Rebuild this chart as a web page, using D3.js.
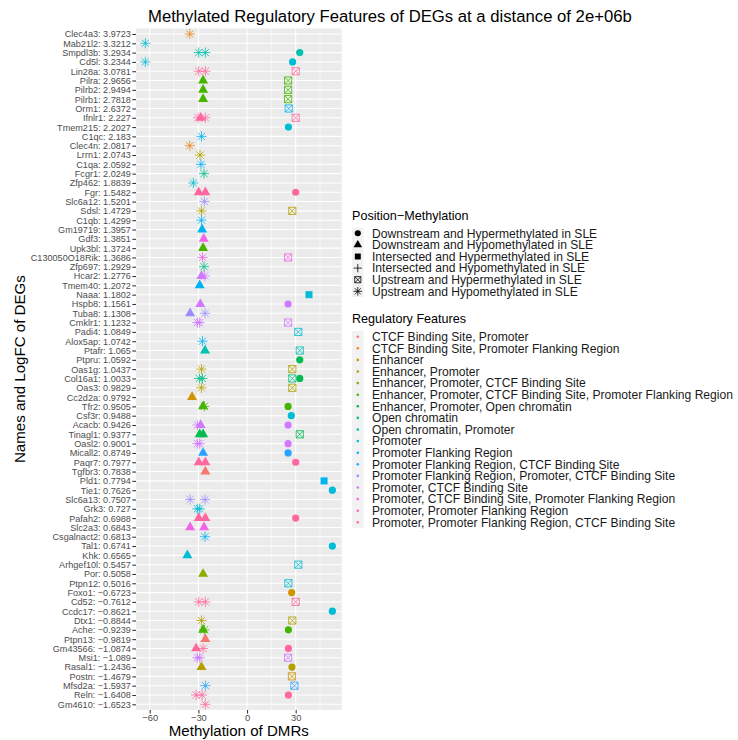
<!DOCTYPE html>
<html>
<head>
<meta charset="utf-8">
<script src="https://cdn.jsdelivr.net/npm/d3@7"></script>
<style>
  body { margin: 0; background: #ffffff; }
  text { font-family: "Liberation Sans", Arial, Helvetica, sans-serif; }
</style>
</head>
<body>
<svg id="chart" width="738" height="740"></svg>
<script>
// ---- data ----
const genes = ["Clec4a3","Mab21l2","Smpdl3b","Cd5l","Lin28a","Pilra","Pilrb2","Pilrb1","Orm1","Ifnlr1",
  "Tmem215","C1qc","Clec4n","Lrrn1","C1qa","Fcgr1","Zfp462","Fgr","Slc6a12","Sdsl",
  "C1qb","Gm19719","Gdf3","Upk3bl","C130050O18Rik","Zfp697","Hcar2","Tmem40","Naaa","Hspb8",
  "Tuba8","Cmklr1","Padi4","Alox5ap","Ptafr","Ptpru","Oas1g","Col16a1","Oas3","Cc2d2a",
  "Tfr2","Csf3r","Acacb","Tinagl1","Oasl2","Micall2","Paqr7","Tgfbr3","Pld1","Tie1",
  "Slc6a13","Grk3","Pafah2","Slc2a3","Csgalnact2","Tal1","Khk","Arhgef10l","Por","Ptpn12",
  "Foxo1","Cd52","Ccdc17","Dtx1","Ache","Ptpn13","Gm43566","Msi1","Rasal1","Postn",
  "Mfsd2a","Reln","Gm4610"];

const logFC = [3.9723,3.3212,3.2934,3.2344,3.0781,2.9656,2.9494,2.7818,2.6372,2.227,
  2.2027,2.183,2.0817,2.0743,2.0592,2.0249,1.8839,1.5482,1.5201,1.4729,
  1.4299,1.3957,1.3851,1.3724,1.3686,1.2929,1.2776,1.2072,1.1802,1.1561,
  1.1308,1.1232,1.0849,1.0742,1.065,1.0592,1.0437,1.0033,0.9829,0.9792,
  0.9505,0.9488,0.9426,0.9377,0.9001,0.8749,0.7977,0.7838,0.7794,0.7626,
  0.7507,0.727,0.6988,0.6843,0.6813,0.6741,0.6565,0.5457,0.5058,0.5016,
  -0.6723,-0.7612,-0.8621,-0.8844,-0.9239,-0.9819,-1.0874,-1.089,-1.2436,-1.4679,
  -1.5937,-1.6408,-1.6523];

const positions = [
  "Downstream and Hypermethylated in SLE",
  "Downstream and Hypomethylated in SLE",
  "Intersected and Hypermethylated in SLE",
  "Intersected and Hypomethylated in SLE",
  "Upstream and Hypermethylated in SLE",
  "Upstream and Hypomethylated in SLE"
];

const features = [
  "CTCF Binding Site, Promoter",
  "CTCF Binding Site, Promoter Flanking Region",
  "Enhancer",
  "Enhancer, Promoter",
  "Enhancer, Promoter, CTCF Binding Site",
  "Enhancer, Promoter, CTCF Binding Site, Promoter Flanking Region",
  "Enhancer, Promoter, Open chromatin",
  "Open chromatin",
  "Open chromatin, Promoter",
  "Promoter",
  "Promoter Flanking Region",
  "Promoter Flanking Region, CTCF Binding Site",
  "Promoter Flanking Region, Promoter, CTCF Binding Site",
  "Promoter, CTCF Binding Site",
  "Promoter, CTCF Binding Site, Promoter Flanking Region",
  "Promoter, Promoter Flanking Region",
  "Promoter, Promoter Flanking Region, CTCF Binding Site"
];

const xTicks = [-60, -30, 0, 30];
const xMinorTicks = [-45, -15, 15, 45];

// DMR records: [gene, methylation, position index, feature index]
const dmrs = [
  ["Clec4a3", -35.3, 5, 1],
  ["Mab21l2", -62.7, 5, 9],
  ["Smpdl3b", -29.8, 5, 8], ["Smpdl3b", -25.7, 5, 8], ["Smpdl3b", 32.5, 0, 8],
  ["Cd5l", -62.7, 5, 9], ["Cd5l", 28.1, 0, 9],
  ["Lin28a", -29.8, 5, 16], ["Lin28a", -25.7, 5, 16], ["Lin28a", 30.0, 4, 16],
  ["Pilra", -27.1, 1, 5], ["Pilra", 25.3, 4, 5],
  ["Pilrb2", -27.1, 1, 5], ["Pilrb2", 25.3, 4, 5],
  ["Pilrb1", -27.1, 1, 5], ["Pilrb1", 25.3, 4, 5],
  ["Orm1", 25.7, 4, 10],
  ["Ifnlr1", -30.2, 5, 16], ["Ifnlr1", -25.7, 5, 16], ["Ifnlr1", -28.6, 1, 16], ["Ifnlr1", 30.0, 4, 16],
  ["Tmem215", 25.5, 0, 9],
  ["C1qc", -28.1, 5, 10],
  ["Clec4n", -35.3, 5, 1],
  ["Lrrn1", -29.0, 5, 3],
  ["C1qa", -28.4, 5, 10],
  ["Fcgr1", -26.5, 5, 7],
  ["Zfp462", -33.1, 5, 9],
  ["Fgr", -29.8, 1, 16], ["Fgr", -25.7, 1, 16], ["Fgr", 30.0, 0, 16],
  ["Slc6a12", -26.3, 5, 12],
  ["Sdsl", -28.1, 5, 3], ["Sdsl", 27.9, 4, 3],
  ["C1qb", -28.1, 5, 10],
  ["Gm19719", -27.7, 1, 10],
  ["Gdf3", -26.7, 1, 14],
  ["Upk3bl", -27.1, 1, 5],
  ["C130050O18Rik", -27.5, 5, 14], ["C130050O18Rik", 25.3, 4, 14],
  ["Zfp697", -26.5, 5, 7],
  ["Hcar2", -26.1, 5, 13], ["Hcar2", -28.1, 1, 13],
  ["Tmem40", -29.2, 1, 10],
  ["Naaa", 38.2, 2, 9],
  ["Hspb8", -28.8, 1, 13], ["Hspb8", 25.3, 0, 13],
  ["Tuba8", -35.1, 1, 12], ["Tuba8", -25.9, 5, 12],
  ["Cmklr1", -30.6, 5, 13], ["Cmklr1", -29.2, 5, 13], ["Cmklr1", 25.3, 4, 13],
  ["Padi4", 31.6, 4, 9],
  ["Alox5ap", -27.5, 5, 10],
  ["Ptafr", -25.9, 1, 8], ["Ptafr", 32.5, 4, 8],
  ["Ptpru", 32.5, 0, 6],
  ["Oas1g", -28.1, 5, 3], ["Oas1g", 27.9, 4, 3],
  ["Col16a1", -29.4, 5, 7], ["Col16a1", -27.5, 5, 7], ["Col16a1", 27.9, 4, 7], ["Col16a1", 32.5, 0, 6],
  ["Oas3", -28.1, 5, 3], ["Oas3", 27.9, 4, 3],
  ["Cc2d2a", -33.9, 1, 2],
  ["Tfr2", -26.3, 5, 5], ["Tfr2", -27.1, 1, 5], ["Tfr2", 25.3, 0, 5],
  ["Csf3r", 27.3, 0, 9],
  ["Acacb", -30.6, 5, 13], ["Acacb", -28.6, 1, 13], ["Acacb", 25.3, 0, 13],
  ["Tinagl1", -29.2, 1, 6], ["Tinagl1", -27.1, 1, 6], ["Tinagl1", 32.5, 4, 6],
  ["Oasl2", -30.6, 5, 13], ["Oasl2", -29.2, 5, 13], ["Oasl2", 25.3, 0, 13],
  ["Micall2", -27.1, 1, 11], ["Micall2", 25.3, 0, 11],
  ["Paqr7", -29.8, 1, 16], ["Paqr7", -25.7, 1, 16], ["Paqr7", 30.0, 0, 16],
  ["Tgfbr3", -25.7, 1, 0],
  ["Pld1", 47.5, 2, 10],
  ["Tie1", 52.6, 0, 9],
  ["Slc6a13", -35.1, 5, 12], ["Slc6a13", -25.9, 5, 12],
  ["Grk3", -30.6, 5, 9], ["Grk3", -29.2, 5, 9],
  ["Pafah2", -29.8, 1, 16], ["Pafah2", -25.7, 1, 16], ["Pafah2", 30.0, 0, 16],
  ["Slc2a3", -35.1, 1, 14], ["Slc2a3", -26.5, 1, 14],
  ["Csgalnact2", -25.9, 5, 10],
  ["Tal1", 52.6, 0, 9],
  ["Khk", -36.8, 1, 9],
  ["Arhgef10l", 31.6, 4, 9],
  ["Por", -27.1, 1, 4],
  ["Ptpn12", 25.5, 4, 9],
  ["Foxo1", 27.5, 0, 2],
  ["Cd52", -29.8, 5, 16], ["Cd52", -25.7, 5, 16], ["Cd52", 30.0, 4, 16],
  ["Ccdc17", 52.6, 0, 9],
  ["Dtx1", -28.1, 5, 3], ["Dtx1", 27.9, 4, 3],
  ["Ache", -26.3, 5, 5], ["Ache", -27.1, 1, 5], ["Ache", 25.5, 0, 5],
  ["Ptpn13", -25.7, 1, 0],
  ["Gm43566", -27.1, 5, 16], ["Gm43566", -31.4, 1, 16], ["Gm43566", 25.5, 0, 16],
  ["Msi1", -30.6, 5, 13], ["Msi1", -29.2, 5, 13], ["Msi1", 25.3, 4, 13],
  ["Rasal1", -28.1, 1, 3], ["Rasal1", 27.7, 0, 3],
  ["Postn", 27.7, 4, 2],
  ["Mfsd2a", -25.7, 5, 11], ["Mfsd2a", 29.2, 4, 11],
  ["Reln", -31.4, 5, 16], ["Reln", -27.7, 5, 16], ["Reln", 25.5, 0, 16],
  ["Gm4610", -25.7, 5, 16]
];

// ---- colours: evenly spaced hues in polar CIE-Luv (l = 65, c = 100) ----
function hclToHex(h, c, l) {
  const WY = 100, Wu = 0.1978398, Wv = 0.4683363;
  const hr = h * Math.PI / 180;
  const U = c * Math.cos(hr), V = c * Math.sin(hr);
  const Y = WY * (l > 7.999592 ? Math.pow((l + 16) / 116, 3) : l / 903.3);
  const u = U / (13 * l) + Wu, v = V / (13 * l) + Wv;
  const X = 9 * Y * u / (4 * v);
  const Z = -X / 3 - 5 * Y + 3 * Y / v;
  const g = t => t > 0.00304 ? 1.055 * Math.pow(t, 1 / 2.4) - 0.055 : 12.92 * t;
  const ch = t => Math.round(255 * Math.max(0, Math.min(1, g(t))));
  const r = ch((3.240479 * X - 1.537150 * Y - 0.498535 * Z) / WY);
  const gg = ch((-0.969256 * X + 1.875992 * Y + 0.041556 * Z) / WY);
  const b = ch((0.055648 * X - 0.204043 * Y + 1.057311 * Z) / WY);
  return d3.rgb(r, gg, b).formatHex();
}
const palette = features.map((_, i) => hclToHex(15 + i * 360 / features.length, 100, 65));
const color = d3.scaleOrdinal().domain(d3.range(features.length)).range(palette);

// ---- layout ----
const svg = d3.select("#chart");
const panel = { left: 136, right: 341.7, top: 28.4, bottom: 709.9 };

const xExt = d3.extent(dmrs, d => d[1]);
const pad = (xExt[1] - xExt[0]) * 0.05;
const x = d3.scaleLinear().domain([xExt[0] - pad, xExt[1] + pad]).range([panel.left, panel.right]);
const y = d3.scalePoint().domain(genes).range([panel.top, panel.bottom]).padding(0.6);

const fmt = v => String(v).replace("-", "\u2212");
const labelOf = new Map(genes.map((g, i) => [g, g + ": " + fmt(logFC[i])]));

// panel background and grid
svg.append("rect")
  .attr("x", panel.left).attr("y", panel.top)
  .attr("width", panel.right - panel.left).attr("height", panel.bottom - panel.top)
  .attr("fill", "#EBEBEB");

const grid = svg.append("g");
grid.selectAll("line.minor").data(xMinorTicks.filter(t => x(t) > panel.left && x(t) < panel.right))
  .join("line").attr("class", "minor")
  .attr("x1", d => x(d)).attr("x2", d => x(d))
  .attr("y1", panel.top).attr("y2", panel.bottom)
  .attr("stroke", "#ffffff").attr("stroke-width", 0.55);
grid.selectAll("line.major").data(xTicks)
  .join("line").attr("class", "major")
  .attr("x1", d => x(d)).attr("x2", d => x(d))
  .attr("y1", panel.top).attr("y2", panel.bottom)
  .attr("stroke", "#ffffff").attr("stroke-width", 1.07);
grid.selectAll("line.hrow").data(genes)
  .join("line").attr("class", "hrow")
  .attr("x1", panel.left).attr("x2", panel.right)
  .attr("y1", d => y(d)).attr("y2", d => y(d))
  .attr("stroke", "#ffffff").attr("stroke-width", 1.07);

// ---- point shapes (filled circle, filled triangle, filled square, plus, boxed cross, asterisk) ----
function shapePath(shape, s) {
  const p = d3.path();
  if (shape === 0) {
    const r = 3.6 * s; p.moveTo(r, 0); p.arc(0, 0, r, 0, 2 * Math.PI);
  } else if (shape === 1) {
    const r = 5.8 * s, xc = r * Math.sqrt(3) / 2;
    p.moveTo(0, -r); p.lineTo(xc, r / 2); p.lineTo(-xc, r / 2); p.closePath();
  } else if (shape === 2) {
    const a = 3.5 * s; p.rect(-a, -a, 2 * a, 2 * a);
  } else if (shape === 3) {
    const a = 4.9 * s; p.moveTo(-a, 0); p.lineTo(a, 0); p.moveTo(0, -a); p.lineTo(0, a);
  } else if (shape === 4) {
    const a = 3.6 * s; p.rect(-a, -a, 2 * a, 2 * a);
    p.moveTo(-a, -a); p.lineTo(a, a); p.moveTo(a, -a); p.lineTo(-a, a);
  } else {
    const a = 3.6 * s, b = a * Math.SQRT2;
    p.moveTo(-b, 0); p.lineTo(b, 0); p.moveTo(0, -b); p.lineTo(0, b);
    p.moveTo(-a, -a); p.lineTo(a, a); p.moveTo(a, -a); p.lineTo(-a, a);
  }
  return p.toString();
}
const filled = s => s <= 2;

function drawShape(sel, shape, col, s) {
  sel.attr("d", shapePath(shape, s))
    .attr("fill", filled(shape) ? col : "none")
    .attr("stroke", filled(shape) ? "none" : col)
    .attr("stroke-width", filled(shape) ? 0 : 1.0)
    .attr("stroke-opacity", filled(shape) ? null : 0.8);
}

const pts = svg.append("g");
dmrs.forEach(d => {
  pts.append("path")
    .attr("transform", `translate(${x(d[1])},${y(d[0])})`)
    .call(drawShape, d[2], color(d[3]), 1);
});

// ---- axes ----
const axisText = "#4D4D4D", tickCol = "#333333";
const yAxis = svg.append("g").attr("transform", `translate(${panel.left},0)`)
  .call(d3.axisLeft(y).tickSize(3.7).tickPadding(1.4).tickFormat(g => labelOf.get(g)));
const xAxis = svg.append("g").attr("transform", `translate(0,${panel.bottom})`)
  .call(d3.axisBottom(x).tickValues(xTicks).tickSize(3.7).tickPadding(0.4).tickFormat(fmt));
[yAxis, xAxis].forEach(a => {
  a.select(".domain").remove();
  a.selectAll(".tick line").attr("stroke", tickCol).attr("stroke-width", 1.07);
  a.selectAll(".tick text").attr("fill", axisText).attr("font-size", 9.1)
    .attr("font-family", "Liberation Sans, Arial, sans-serif");
});
xAxis.selectAll(".tick text").attr("font-size", 9.4);

// titles
svg.append("text").attr("x", 148).attr("y", 22)
  .attr("font-size", 16.7).attr("fill", "#000")
  .text("Methylated Regulatory Features of DEGs at a distance of 2e+06b");
svg.append("text").attr("x", (panel.left + panel.right) / 2).attr("y", 736)
  .attr("text-anchor", "middle").attr("font-size", 15.1).attr("fill", "#000")
  .text("Methylation of DMRs");
svg.append("text")
  .attr("transform", `translate(24.5,${(panel.top + panel.bottom) / 2}) rotate(-90)`)
  .attr("text-anchor", "middle").attr("font-size", 15.1).attr("fill", "#000")
  .text("Names and LogFC of DEGs");

// ---- legends ----
const lx = 352, keyW = 11.6, rowH = 11.6, textX = 372;

function legendBlock(title, titleY, firstY, items, drawKey) {
  const g = svg.append("g");
  g.append("text").attr("x", lx).attr("y", titleY).attr("font-size", 12.6).attr("fill", "#000").text(title);
  g.append("rect").attr("x", lx).attr("y", firstY - rowH / 2)
    .attr("width", keyW).attr("height", rowH * items.length).attr("fill", "#F2F2F2");
  items.forEach((it, i) => {
    const cy = firstY + i * rowH;
    drawKey(g, i, lx + keyW / 2, cy);
    g.append("text").attr("x", textX).attr("y", cy + 4.3).attr("font-size", 12.1).attr("fill", "#1A1A1A").text(it);
  });
}

legendBlock("Position\u2212Methylation", 219.5, 233.3, positions, (g, i, cx, cy) => {
  g.append("path").attr("transform", `translate(${cx},${cy})`).call(drawShape, i, "#000", 0.85);
});
legendBlock("Regulatory Features", 322.5, 336.7, features, (g, i, cx, cy) => {
  g.append("circle").attr("cx", cx).attr("cy", cy).attr("r", 1.3).attr("fill", color(i));
});
</script>
</body>
</html>
